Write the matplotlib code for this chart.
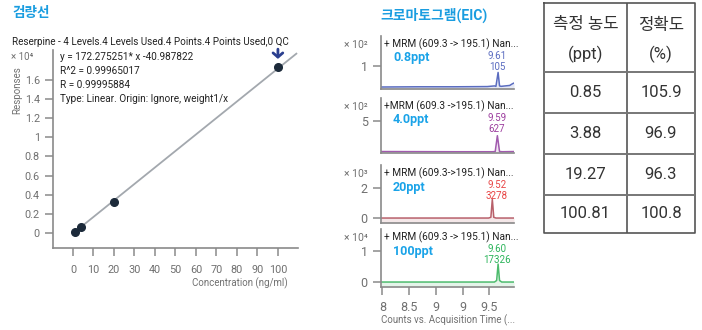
import matplotlib
matplotlib.use("Agg")
import matplotlib.pyplot as plt
from matplotlib.ticker import FuncFormatter

plt.rcParams['font.family'] = ['Roboto', 'Noto Sans CJK KR', 'DejaVu Sans']

W, H = 702, 330

# calibration data
conc = [0.8, 4, 20, 100]
resp = [105, 627, 3278, 17326]
fit_x = [0.8, 109]
slope, icpt = 172.275251, -40.987822
cal_xticks = [0, 10, 20, 30, 40, 50, 60, 70, 80, 90, 100]
cal_yticks = [0, 2000, 4000, 6000, 8000, 10000, 12000, 14000, 16000]

# chromatograms (time, intensity in panel units)
labels = ["0.8ppt", "4.0ppt", "20ppt", "100ppt"]
headers = ["+ MRM (609.3 -> 195.1) Nan...", "+MRM (609.3 ->195.1) Nan...",
           "+ MRM (609.3->195.1) Nan...", "+ MRM (609.3 -> 195.1) Nan..."]
rt = ["9.61", "9.59", "9.52", "9.60"]
area = ["105", "627", "3278", "17326"]
exps = ["²", "²", "³", "⁴"]
yt = [[1], [5], [0, 2], [0, 1]]
t1 = [7.98, 8.5, 9.0, 9.45, 9.55, 9.57, 9.60, 9.62, 9.64, 9.70, 9.76, 9.80, 9.82]
y1 = [0.07, 0.08, 0.08, 0.09, 0.12, 0.10, 0.73, 0.12, 0.10, 0.12, 0.14, 0.22, 0.25]
t2 = [7.98, 9.0, 9.52, 9.56, 9.59, 9.62, 9.66, 9.82]
y2 = [0.15, 0.12, 0.12, 0.15, 2.65, 0.15, 0.12, 0.15]
t3 = [7.98, 9.0, 9.47, 9.50, 9.52, 9.54, 9.57, 9.82]
y3 = [0.0, 0.0, 0.0, 0.05, 1.25, 0.05, 0.0, 0.0]
t4 = [7.98, 9.0, 9.55, 9.58, 9.60, 9.62, 9.65, 9.82]
y4 = [0.0, 0.0, 0.0, 0.05, 0.58, 0.05, 0.0, 0.0]
traces = [(t1, y1), (t2, y2), (t3, y3), (t4, y4)]
ylims = [(-0.02, 2.38), (-0.08, 8.6), (-0.33, 3.53), (-0.16, 1.71)]
line_cols = ["#5a6cc0", "#a15aae", "#b8606a", "#4cbb6c"]
txt_cols = ["#5a6cc0", "#9c3d9e", "#e84545", "#2bb45a"]
boxes = [(381, 36, 514, 89), (381, 98, 514, 153), (381, 165, 514, 223), (381, 229, 514, 287)]
time_ticks = [8, 8.37, 8.74, 9.11, 9.48]
time_labels = ["8", "8.5", "9", "9", "9.5"]

# table
tbl_head = [("측정 농도", "(ppt)"), ("정확도", "(%)")]
measured = ["0.85", "3.88", "19.27", "100.81"]
accuracy = ["105.9", "96.9", "96.3", "100.8"]

GRAY = "#8a8a8a"
TGRAY = "#707070"
BLUE = "#1a9de0"


def box(l, t, r, b):
    return [l / W, 1 - b / H, (r - l) / W, (b - t) / H]


fig = plt.figure(figsize=(W / 100, H / 100), dpi=100)


def T(x, y, s, **kw):
    kw.setdefault("va", "center")
    fig.text(x / W, 1 - y / H, s, **kw)


# ---- calibration curve ----
ax = fig.add_axes(box(53, 50, 298, 248))
ax.plot(fit_x, [slope * v + icpt for v in fit_x], color="#a3a8ae", lw=1.3)
ax.plot(conc, resp, "o", color="#1c2a3a", ms=5.5)
ax.annotate("", xy=(conc[-1], 17900), xytext=(conc[-1], 19500),
            arrowprops=dict(arrowstyle="->,head_width=0.35,head_length=0.3",
                            color="#2b3f8f", lw=2),
            annotation_clip=False)
ax.set_xlim(-9.76, 109.8)
ax.set_ylim(-1567, 19120)
ax.set_xticks(cal_xticks)
ax.set_yticks(cal_yticks)
ax.yaxis.set_major_formatter(FuncFormatter(lambda v, p: f"{v / 1e4:g}"))
for s in ["top", "right"]:
    ax.spines[s].set_visible(False)
for s in ["left", "bottom"]:
    ax.spines[s].set_color(GRAY)
    ax.spines[s].set_linewidth(1.2)
ax.tick_params(colors=GRAY, labelcolor=TGRAY, labelsize=7.8, length=6, width=1.1)
ax.tick_params(axis="x", pad=6)

T(12, 13, "검량선", color=BLUE, fontsize=9.8, fontweight="bold")
T(12, 42, "Reserpine - 4 Levels.4 Levels Used.4 Points.4 Points Used,0 QC", fontsize=7.1, color="#222")
eq = ["y = 172.275251* x -40.987822", "R^2 = 0.99965017", "R = 0.99995884",
      "Type: Linear. Origin: Ignore, weight1/x"]
for i, s in enumerate(eq):
    T(60, 57 + i * 14, s, fontsize=7.2, color="#222")
T(33, 57, "× 10⁴", fontsize=7, color=TGRAY, ha="right")
T(17, 90, "Responses", fontsize=7, color=TGRAY, rotation=90, ha="center")
T(288, 283, "Concentration (ng/ml)", fontsize=7, color=TGRAY, ha="right")

# ---- chromatograms ----
T(434, 15, "크로마토그램(EIC)", color=BLUE, fontsize=10, fontweight="bold", ha="center")
for i in range(4):
    l, t, r, b = boxes[i]
    a = fig.add_axes(box(l, t, r, b))
    a.plot(traces[i][0], traces[i][1], color=line_cols[i], lw=1.1)
    a.fill_between(traces[i][0], traces[i][1], ylims[i][0], color=line_cols[i], alpha=0.15, lw=0)
    a.set_xlim(7.98, 9.82)
    a.set_ylim(*ylims[i])
    a.set_yticks(yt[i])
    for s in ["top", "right"]:
        a.spines[s].set_visible(False)
    for s in ["left", "bottom"]:
        a.spines[s].set_color(GRAY)
        a.spines[s].set_linewidth(1.2)
    a.tick_params(colors=GRAY, labelcolor=TGRAY, labelsize=9, length=6, width=1.1)
    if i < 3:
        a.set_xticks([])
    else:
        a.set_xticks(time_ticks)
        a.set_xticklabels(time_labels)
        a.tick_params(axis="x", pad=4)
    T(l + 3, t + 8, headers[i], fontsize=7.3, color="#222", ha="left")
    T(l + 12, t + 22, labels[i], fontsize=9, color="#1aa3e8", fontweight="bold", ha="left")
    T(497, t + 20, rt[i], fontsize=7, color=txt_cols[i], ha="center")
    T(497, t + 31, area[i], fontsize=7, color=txt_cols[i], ha="center")
    T(368, t + 9, "× 10" + exps[i], fontsize=7.5, color=TGRAY, ha="right")
T(448, 320, "Counts vs. Acquisition Time (...", fontsize=7, color=TGRAY, ha="center")

# ---- table ----
tx = fig.add_axes(box(544, 3, 695, 233))
tx.set_xlim(544, 695)
tx.set_ylim(233, 3)
tx.axis("off")
LC = "#555"
tx.plot([544, 695, 695, 544, 544], [3, 3, 233, 233, 3], color=LC, lw=1.2, clip_on=False)
tx.plot([627, 627], [3, 233], color=LC, lw=1.2)
rows = [72, 113, 154, 195]
for y in rows:
    tx.plot([544, 695], [y, y], color="#777", lw=1.4)
cx = [585.5, 661]
for j in range(2):
    tx.text(cx[j], 25, tbl_head[j][0], ha="center", va="center", fontsize=12, color="#333")
    tx.text(cx[j], 54, tbl_head[j][1], ha="center", va="center", fontsize=12, color="#333")
edges = rows + [233]
for k in range(4):
    yc = (edges[k] + edges[k + 1]) / 2
    tx.text(cx[0], yc, measured[k], ha="center", va="center", fontsize=12, color="#333")
    tx.text(cx[1], yc, accuracy[k], ha="center", va="center", fontsize=12, color="#333")

fig.savefig("out.png", dpi=100)
